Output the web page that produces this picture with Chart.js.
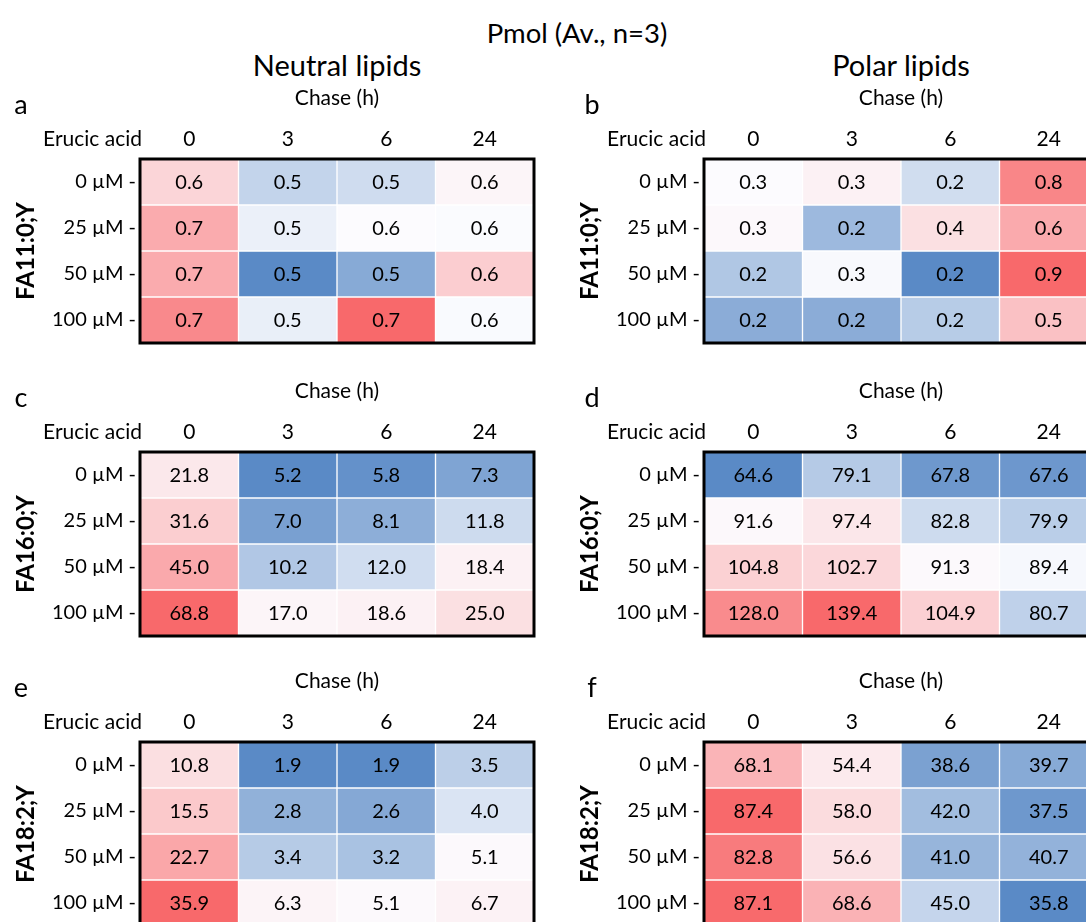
<!DOCTYPE html>
<html>
<head>
<meta charset="utf-8">
<script src="https://cdn.jsdelivr.net/npm/chart.js@4.4.1/dist/chart.umd.min.js"></script>
<style>
  html, body { margin: 0; padding: 0; background: #fff; }
  body { width: 1086px; height: 922px; overflow: hidden; position: relative; font-family: Lato, 'Open Sans', sans-serif; color: #000; }
  .hd { position: absolute; white-space: nowrap; transform: translate(-50%, -50%); line-height: 1; }
  .panel { position: absolute; }
</style>
</head>
<body>
<div class="hd" style="left:577px; top:33px; font-size:27.5px;">Pmol (Av., n=3)</div>
<div class="hd" style="left:337px; top:64px; font-size:29px;">Neutral lipids</div>
<div class="hd" style="left:901px; top:64px; font-size:29px;">Polar lipids</div>
<script>
// ---- data ----
const chaseHours = ['0', '3', '6', '24'];
const erucicDoses = ['0 µM', '25 µM', '50 µM', '100 µM'];
const panelLetters = ['a', 'b', 'c', 'd', 'e', 'f'];
const fattyAcids = ['FA11:0;Y', 'FA16:0;Y', 'FA18:2;Y'];

// rows = erucic acid dose, columns = chase time (h)
const neutralFA11 = [
  [0.605, 0.520, 0.527, 0.562],
  [0.660, 0.543, 0.554, 0.552],
  [0.660, 0.460, 0.486, 0.615],
  [0.705, 0.542, 0.748, 0.551]
];
const polarFA11 = [
  [0.276, 0.320, 0.242, 0.760],
  [0.290, 0.207, 0.390, 0.610],
  [0.220, 0.270, 0.160, 0.880],
  [0.194, 0.194, 0.225, 0.515]
];
const neutralFA16 = [
  [21.8, 5.2, 5.8, 7.3],
  [31.6, 7.0, 8.1, 11.8],
  [45.0, 10.2, 12.0, 18.4],
  [68.8, 17.0, 18.6, 25.0]
];
const polarFA16 = [
  [64.6, 79.1, 67.8, 67.6],
  [91.6, 97.4, 82.8, 79.9],
  [104.8, 102.7, 91.3, 89.4],
  [128.0, 139.4, 104.9, 80.7]
];
const neutralFA18 = [
  [10.8, 1.9, 1.9, 3.5],
  [15.5, 2.8, 2.6, 4.0],
  [22.7, 3.4, 3.2, 5.1],
  [35.9, 6.3, 5.1, 6.7]
];
const polarFA18 = [
  [68.1, 54.4, 38.6, 39.7],
  [87.4, 58.0, 42.0, 37.5],
  [82.8, 56.6, 41.0, 40.7],
  [87.1, 68.6, 45.0, 35.8]
];

// ---- style / layout ----
const FONT = "Lato, 'Open Sans', sans-serif";
const TEXT_SIZE = 21;    // "Chase (h)", "Erucic acid"
const NUM_SIZE = 20;     // cell values, tick labels
const COL_LEFT = [140, 704];
const ROW_TOP = [159, 452, 742];
const LETTER_DX = [-119, -112];
const HEAT_W = 394, HEAT_H = 186;
const AXIS_W = 140, AXIS_H = 90;

const BLUE = [90, 138, 198], WHITE = [252, 252, 255], RED = [248, 105, 107];
function mix(a, b, t) {
  t = Math.max(0, Math.min(1, t));
  return 'rgb(' + a.map((v, i) => Math.round(v + (b[i] - v) * t)).join(',') + ')';
}
function makeScale(values) {
  const flat = values.flat().slice().sort((p, q) => p - q);
  const n = flat.length;
  const med = n % 2 ? flat[(n - 1) / 2] : (flat[n / 2 - 1] + flat[n / 2]) / 2;
  const min = flat[0], max = flat[n - 1];
  return v => v <= med
    ? mix(BLUE, WHITE, med > min ? (v - min) / (med - min) : 1)
    : mix(WHITE, RED, max > med ? (v - med) / (max - med) : 0);
}

function makePanel(values, letter, yTitle, col, row) {
  const L = COL_LEFT[col], T = ROW_TOP[row];
  const wrap = document.createElement('div');
  wrap.className = 'panel';
  const cw = AXIS_W + HEAT_W + 14, ch = AXIS_H + HEAT_H + 14;
  wrap.style.left = (L - AXIS_W) + 'px';
  wrap.style.top = (T - AXIS_H) + 'px';
  wrap.style.width = cw + 'px';
  wrap.style.height = ch + 'px';
  const cv = document.createElement('canvas');
  cv.width = cw; cv.height = ch;
  cv.style.width = cw + 'px'; cv.style.height = ch + 'px';
  wrap.appendChild(cv);
  document.body.appendChild(wrap);

  const colorOf = makeScale(values);
  const datasets = erucicDoses.map((dose, r) => ({
    label: dose,
    data: chaseHours.map(() => [r, r + 1]),
    backgroundColor: chaseHours.map((h, c) => colorOf(values[r][c])),
    borderColor: 'rgba(255,255,255,0.35)',
    borderWidth: 1,
    borderSkipped: false,
    grouped: false,
    barPercentage: 1,
    categoryPercentage: 1
  }));

  const overlay = {
    id: 'overlay' + letter,
    afterDatasetsDraw(chart) {
      const ctx = chart.ctx, a = chart.chartArea;
      ctx.save();
      ctx.fillStyle = '#000';
      ctx.font = NUM_SIZE + 'px ' + FONT;
      ctx.textAlign = 'center';
      ctx.textBaseline = 'middle';
      datasets.forEach((ds, r) => {
        chart.getDatasetMeta(r).data.forEach((bar, c) => {
          ctx.fillText(values[r][c].toFixed(1), bar.x, (bar.y + bar.base) / 2 + 1);
        });
      });
      ctx.strokeStyle = '#000';
      ctx.lineWidth = 3;
      ctx.strokeRect(a.left, a.top, a.right - a.left, a.bottom - a.top);
      ctx.textAlign = 'right';
      ctx.font = TEXT_SIZE + 'px ' + FONT;
      ctx.fillText('Erucic acid', a.left + 2, a.top - 20);
      ctx.textAlign = 'center';
      ctx.font = '27px ' + FONT;
      ctx.fillText(letter, a.left + LETTER_DX[col], a.top - 54);
      ctx.restore();
    }
  };

  new Chart(cv, {
    type: 'bar',
    data: { labels: chaseHours, datasets },
    options: {
      responsive: false,
      animation: false,
      devicePixelRatio: 1,
      layout: { padding: { left: 0, top: 0, right: cw - AXIS_W - HEAT_W, bottom: ch - AXIS_H - HEAT_H } },
      plugins: { legend: { display: false }, tooltip: { enabled: false } },
      scales: {
        x: {
          type: 'category',
          position: 'top',
          offset: true,
          grid: { display: false, drawTicks: false },
          border: { display: false },
          ticks: { color: '#000', font: { family: FONT, size: TEXT_SIZE }, padding: 7, maxRotation: 0 },
          title: { display: true, text: 'Chase (h)', color: '#000', font: { family: FONT, size: TEXT_SIZE }, padding: { top: 17, bottom: 0 } },
          afterFit: s => { s.height = AXIS_H; }
        },
        y: {
          type: 'linear',
          min: 0, max: 4,
          reverse: true,
          grid: { display: false, drawTicks: false },
          border: { display: false },
          afterBuildTicks: s => { s.ticks = [0.5, 1.5, 2.5, 3.5].map(v => ({ value: v })); },
          ticks: { color: '#000', font: { family: FONT, size: NUM_SIZE }, padding: 4,
                   callback: (v, i) => erucicDoses[i] + ' -' },
          title: { display: true, text: yTitle, color: '#000', font: { family: FONT, size: 24, weight: 'bold' }, padding: { top: 12, bottom: 0 } },
          afterFit: s => { s.width = AXIS_W; }
        }
      }
    },
    plugins: [overlay]
  });
}

const grid = [
  [neutralFA11, polarFA11],
  [neutralFA16, polarFA16],
  [neutralFA18, polarFA18]
];
grid.forEach((rowSets, row) => {
  rowSets.forEach((vals, col) => {
    makePanel(vals, panelLetters[row * 2 + col], fattyAcids[row], col, row);
  });
});
</script>
</body>
</html>
